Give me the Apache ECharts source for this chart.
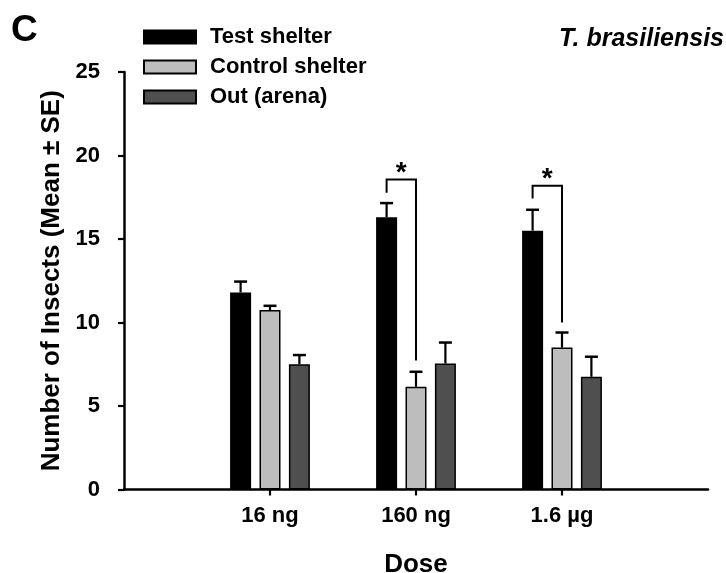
<!DOCTYPE html>
<html><head><meta charset="utf-8">
<script src="https://cdn.jsdelivr.net/npm/echarts@6/dist/echarts.min.js"></script>
<style>html,body{margin:0;padding:0;background:#fff}#c{width:726px;height:573px}</style>
</head><body><div id="c"></div>
<script>
const categories = ['16 ng', '160 ng', '1.6 µg'];
const seriesNames = ['Test shelter', 'Control shelter', 'Out (arena)'];
const testMean = [11.8, 16.3, 15.5];
const testSE = [0.65, 0.85, 1.25];
const controlMean = [10.75, 6.15, 8.5];
const controlSE = [0.25, 0.9, 0.9];
const outMean = [7.5, 7.55, 6.75];
const outSE = [0.55, 1.25, 1.2];
const yTicks = [0, 5, 10, 15, 20, 25];
// significance brackets: [category position, left leg bottom, top, right leg bottom]
const brackets = [[2, 17.77, 18.57, 7.73], [3, 17.43, 18.19, 10.0]];
const sigLabels = ['*', '*'];

const FONT = '"Liberation Sans", Arial, Helvetica, sans-serif';
const BAR_W = 21, BAR_GAP = 0.4, BAR_STEP = BAR_W * (1 + BAR_GAP);
const colors = ['#000000', '#bdbdbd', '#4f4f4f'];

const axisCats = [''].concat(categories, ['']);
const pad = arr => ['-'].concat(arr, ['-']);
const means = [testMean, controlMean, outMean];
const ses = [testSE, controlSE, outSE];

function errRender(offIdx) {
  return function (params, api) {
    const c = api.value(0), m = api.value(1), se = api.value(2);
    const p0 = api.coord([c, m]);
    const p1 = api.coord([c, m + se]);
    const x = p0[0] + offIdx * BAR_STEP;
    return {
      type: 'group', children: [
        { type: 'line', shape: { x1: x, y1: p0[1], x2: x, y2: p1[1] }, style: { stroke: '#000', lineWidth: 2.2 } },
        { type: 'line', shape: { x1: x - 6.5, y1: p1[1], x2: x + 6.5, y2: p1[1] }, style: { stroke: '#000', lineWidth: 2.5 } }
      ]
    };
  };
}

const series = [];
means.forEach((m, k) => {
  series.push({
    name: seriesNames[k], type: 'bar', data: pad(m), barWidth: BAR_W, barGap: (BAR_GAP * 100) + '%',
    itemStyle: { color: colors[k], borderColor: '#000', borderWidth: 1.5 }, z: 2
  });
});
means.forEach((m, k) => {
  series.push({
    type: 'custom', renderItem: errRender(k - 1), z: 3,
    data: m.map((v, i) => [i + 1, v, ses[k][i]]), encode: { x: 0, y: 1 }, silent: true
  });
});
series.push({
  type: 'custom', z: 4, silent: true,
  data: brackets,
  encode: { x: 0, y: [1, 2, 3] },
  renderItem: function (params, api) {
    const c = api.value(0);
    const pl = api.coord([c, api.value(1)]);
    const pt = api.coord([c, api.value(2)]);
    const pr = api.coord([c, api.value(3)]);
    const xl = pl[0] - BAR_STEP, xr = pl[0];
    const mid = (xl + xr) / 2;
    return {
      type: 'group', children: [
        { type: 'polyline', shape: { points: [[xl, pl[1]], [xl, pt[1]], [xr, pt[1]], [xr, pr[1]]] },
          style: { stroke: '#000', fill: null, lineWidth: 2 } },
        { type: 'text', x: mid, y: pt[1] - 6,
          style: { text: sigLabels[params.dataIndex], fontSize: 28, fontWeight: 'bold', fontFamily: FONT,
                   align: 'center', verticalAlign: 'middle', fill: '#000' } }
      ]
    };
  }
});

const chart = echarts.init(document.getElementById('c'));
chart.setOption({
  animation: false,
  backgroundColor: '#fff',
  title: [
    { text: 'C', left: 11, top: 12, padding: 0, textStyle: { fontSize: 37, fontWeight: 'bold', color: '#000', fontFamily: FONT } },
    { text: 'T. brasiliensis', right: 2, top: 27, padding: 0, textStyle: { fontSize: 25, fontWeight: 'bold', fontStyle: 'italic', color: '#000', fontFamily: FONT } }
  ],
  legend: {
    data: seriesNames, orient: 'vertical', left: 143, top: 26, padding: 0,
    itemWidth: 52, itemHeight: 13, itemGap: 8, icon: 'rect', selectedMode: false,
    textStyle: { fontSize: 22, fontWeight: 'bold', color: '#000', fontFamily: FONT, lineHeight: 21, padding: [0, 0, 0, 9] }
  },
  grid: { left: 124, right: 18, top: 72, bottom: 83.5, outerBoundsMode: 'none' },
  xAxis: {
    type: 'category', data: axisCats, boundaryGap: false,
    name: 'Dose', nameLocation: 'middle', nameGap: 62,
    nameTextStyle: { fontSize: 26, fontWeight: 'bold', color: '#000', fontFamily: FONT },
    axisLine: { lineStyle: { color: '#000', width: 2.5 } },
    axisTick: { length: 6, lineStyle: { color: '#000', width: 2.2 }, interval: (i) => i > 0 && i < axisCats.length - 1 },
    axisLabel: { interval: 0, margin: 15, fontSize: 22, fontWeight: 'bold', color: '#000', fontFamily: FONT },
    splitLine: { show: false }
  },
  yAxis: {
    type: 'value', min: yTicks[0], max: yTicks[yTicks.length - 1], interval: yTicks[1] - yTicks[0],
    name: 'Number of Insects (Mean ± SE)', nameLocation: 'middle', nameGap: 59,
    nameTextStyle: { fontSize: 26, fontWeight: 'bold', color: '#000', fontFamily: FONT },
    axisLine: { show: true, lineStyle: { color: '#000', width: 2.5 } },
    axisTick: { show: true, length: 6, lineStyle: { color: '#000', width: 2.2 } },
    axisLabel: { margin: 24, fontSize: 22, fontWeight: 'bold', color: '#000', fontFamily: FONT },
    splitLine: { show: false }
  },
  series: series
});
</script>
</body></html>
